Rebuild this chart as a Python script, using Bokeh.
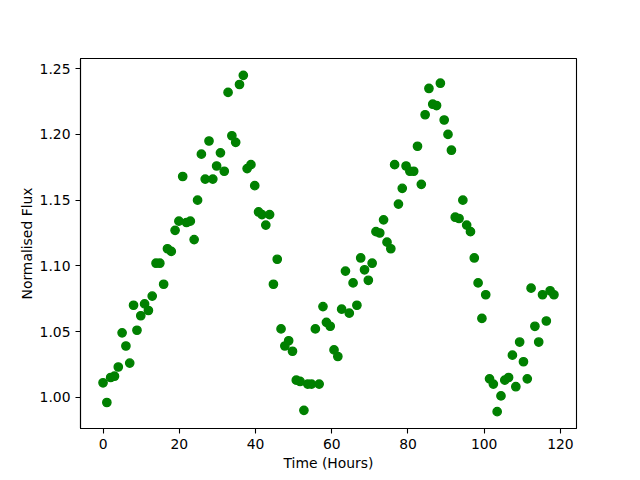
from bokeh.plotting import figure
from bokeh.models import Range1d, FixedTicker, PrintfTickFormatter
from bokeh.embed import file_html
from bokeh.resources import INLINE

time_hours = [
    0, 1, 2, 3, 4, 5, 6, 7, 8,
    8.9, 9.9, 10.9, 11.9, 12.9, 13.9, 14.9, 15.9, 16.9, 17.9, 18.9, 19.9, 20.9, 21.9, 22.9, 23.9,
    24.8, 25.8, 26.8, 27.8, 28.8, 29.8, 30.8, 31.8, 32.8, 33.8, 34.8, 35.8, 36.8, 37.8, 38.8, 39.8, 40.8,
    41.7, 42.7, 43.7, 44.7, 45.7, 46.7, 47.7, 48.7, 49.7, 50.7, 51.7, 52.7, 53.7, 54.7, 55.7, 56.7, 57.7,
    58.6, 59.6, 60.6, 61.6, 62.6, 63.6, 64.6, 65.6, 66.6, 67.6, 68.6, 69.6, 70.6, 71.6, 72.6, 73.6,
    74.5, 75.5, 76.5, 77.5, 78.5, 79.5, 80.5, 81.5, 82.5, 83.5, 84.5, 85.5, 86.5, 87.5, 88.5, 89.5, 90.5,
    91.4, 92.4, 93.4, 94.4, 95.4, 96.4, 97.4, 98.4, 99.4, 100.4, 101.4, 102.4, 103.4, 104.4, 105.4, 106.4, 107.4,
    108.3, 109.3, 110.3, 111.3, 112.3, 113.3, 114.3, 115.3, 116.3, 117.3, 118.3,
]

flux = [
    1.011, 0.996, 1.015, 1.016, 1.023, 1.049, 1.039, 1.026, 1.070, 1.051,
    1.062, 1.071, 1.066, 1.077, 1.102, 1.102, 1.086, 1.113, 1.111, 1.127,
    1.134, 1.168, 1.133, 1.134, 1.120, 1.150, 1.185, 1.166, 1.195, 1.166,
    1.176, 1.186, 1.172, 1.232, 1.199, 1.194, 1.238, 1.245, 1.174, 1.177,
    1.161, 1.141, 1.139, 1.131, 1.139, 1.086, 1.105, 1.052, 1.039, 1.043,
    1.035, 1.013, 1.012, 0.990, 1.010, 1.010, 1.052, 1.010, 1.069, 1.057,
    1.054, 1.036, 1.031, 1.067, 1.096, 1.064, 1.087, 1.070, 1.106, 1.097,
    1.089, 1.102, 1.126, 1.125, 1.135, 1.118, 1.113, 1.177, 1.147, 1.159,
    1.176, 1.172, 1.172, 1.191, 1.162, 1.215, 1.235, 1.223, 1.222, 1.239,
    1.211, 1.200, 1.188, 1.137, 1.136, 1.150, 1.131, 1.126, 1.106, 1.087,
    1.060, 1.078, 1.014, 1.010, 0.989, 1.001, 1.013, 1.015, 1.032, 1.008,
    1.042, 1.027, 1.014, 1.083, 1.054, 1.042, 1.078, 1.058, 1.081, 1.078,
]

x_ticks = [0, 20, 40, 60, 80, 100, 120]
y_ticks = [1.00, 1.05, 1.10, 1.15, 1.20, 1.25]

xmin, xmax = min(time_hours), max(time_hours)
ymin, ymax = min(flux), max(flux)
xm = (xmax - xmin) * 0.05
ym = (ymax - ymin) * 0.05

p = figure(
    frame_width=496, frame_height=370,
    min_border_left=80, min_border_right=64, min_border_top=58, min_border_bottom=52,
    x_range=Range1d(xmin - xm, xmax + xm),
    y_range=Range1d(ymin - ym, ymax + ym),
    output_backend="svg", toolbar_location=None,
)

p.scatter(time_hours, flux, size=8.3, fill_color="#008000", line_color="#008000", line_width=1.4)

p.xgrid.visible = False
p.ygrid.visible = False
p.outline_line_color = "black"
p.outline_line_width = 1.1
p.outline_line_alpha = 1.0

p.xaxis.ticker = FixedTicker(ticks=x_ticks)
p.yaxis.ticker = FixedTicker(ticks=y_ticks)
p.xaxis.formatter = PrintfTickFormatter(format="%d")
p.yaxis.formatter = PrintfTickFormatter(format="%.2f")
p.xaxis.axis_label = "Time (Hours)"
p.yaxis.axis_label = "Normalised Flux"

for ax in (p.xaxis, p.yaxis):
    ax.axis_line_color = "black"
    ax.axis_line_width = 1.1
    ax.major_tick_out = 5
    ax.major_tick_in = 0
    ax.major_tick_line_width = 1.1
    ax.minor_tick_out = 0
    ax.minor_tick_in = 0
    ax.major_label_text_font = "DejaVu Sans"
    ax.major_label_text_font_size = "13.9px"
    ax.major_label_text_color = "black"
    ax.major_label_standoff = 5
    ax.axis_label_text_font = "DejaVu Sans"
    ax.axis_label_text_font_size = "13.9px"
    ax.axis_label_text_font_style = "normal"
    ax.axis_label_text_color = "black"

p.xaxis.axis_label_standoff = 3
p.yaxis.axis_label_standoff = 2

with open("out.html", "w") as f:
    f.write(file_html(p, INLINE))
